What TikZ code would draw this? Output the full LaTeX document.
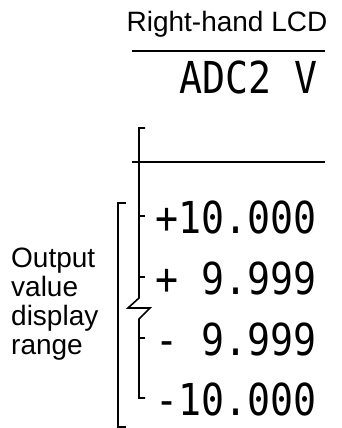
\documentclass[tikz,border=0pt]{standalone}
\usepackage{fontspec}
\setmainfont{Liberation Sans}
\newfontfamily\lcdfont{DejaVu Sans Mono}
\tikzset{
  sidetext/.style={font=\fontsize{28}{29}\selectfont, inner sep=0pt, align=left},
  readout/.style={font=\lcdfont\fontsize{44}{44}\selectfont, inner sep=0pt, xscale=0.87, anchor=base west},
  barline/.style={line width=1.6pt, draw=black},
  bracket/.style={line width=1.6pt, draw=black}
}
\begin{document}
\begin{tikzpicture}[x=1pt, y=-1pt]
  \useasboundingbox (0,0) rectangle (341,428);
  % header
  \node[sidetext, anchor=base] (lcd) at (227,32) {Right-hand LCD};
  \coordinate (topL) at (132,51);
  \coordinate (topR) at (325,51);
  \draw[barline] (topL) -- (topR);
  \node[readout] (mode) at (179,93) {ADC2 V};

  % display rows
  \node[readout] (pten) at (155,233) {+10.000};
  \node[readout] (pnine) at (155,294) {+ 9.999};
  \node[readout] (mnine) at (155,355) {- 9.999};
  \node[readout] (mten) at (155,415) {-10.000};

  % scale with break
  \coordinate (midL) at (132,162);
  \coordinate (midR) at (325,162);
  \draw[barline] (midL) -- (midR);
  \draw[bracket] (145,128) -- (139,128) -- (139,298) -- (128,308) -- (150,308)
    -- (139,319) -- (139,398) -- (145,398);
  \foreach \y in {216,277,338}
    \draw[bracket] (139,\y) -- (145,\y);

  % range bracket
  \draw[bracket] (126,203) -- (118,203) -- (118,427) -- (126,427);
  \node[sidetext, anchor=base west] (range) at (11,354) {Output\\value\\display\\range};
\end{tikzpicture}
\end{document}
